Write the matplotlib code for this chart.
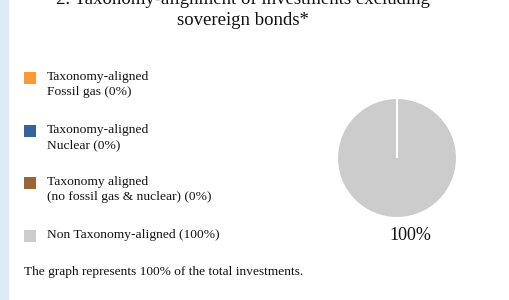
import matplotlib
matplotlib.use("Agg")
import matplotlib.pyplot as plt
from matplotlib.patches import Rectangle
import numpy as np

categories = ["Taxonomy-aligned\nFossil gas (0%)",
              "Taxonomy-aligned\nNuclear (0%)",
              "Taxonomy aligned\n(no fossil gas & nuclear) (0%)",
              "Non Taxonomy-aligned (100%)"]
values = [0, 0, 0, 100]
colors = ["#F99A38", "#33649A", "#9A6535", "#CCCCCC"]
title = "2. Taxonomy-alignment of investments excluding\nsovereign bonds*"
footer = "The graph represents 100% of the total investments."

plt.rcParams['font.family'] = ['Liberation Serif', 'DejaVu Serif']

W, H = 509, 300
fig = plt.figure(figsize=(W / 100, H / 100), dpi=100)
fig.patch.set_facecolor("white")

def fx(px):
    return px / W

def fy(py):
    return 1 - py / H

# left light-blue strip
fig.patches.append(Rectangle((0, 0), fx(9), 1, transform=fig.transFigure,
                             facecolor="#DEEAF5", edgecolor="none"))

# title (top line clipped by the frame)
fig.text(fx(243), fy(25), title, ha="center", va="baseline",
         fontsize=13.5, linespacing=1.3, color="#111111")

# legend
legend_tops = [72, 125, 177, 230]
for cat, col, top in zip(categories, colors, legend_tops):
    fig.patches.append(Rectangle((fx(24), fy(top + 12)), fx(12), 12 / H,
                                 transform=fig.transFigure,
                                 facecolor=col, edgecolor="none"))
    fig.text(fx(47), fy(top - 1), cat, ha="left", va="top",
             fontsize=9.7, linespacing=1.32, color="#111111")

fig.text(fx(24), fy(275), footer, ha="left", va="baseline",
         fontsize=9.6, color="#111111")

# pie
startangle = 90
ax = fig.add_axes([fx(337), fy(218), fx(120), 120 / H])
ax.pie(values, colors=colors, startangle=startangle, counterclock=False,
       wedgeprops=dict(edgecolor="white", linewidth=1.5))
# boundary of the (zero-size) wedges at the start angle
a = np.deg2rad(startangle)
ax.plot([0, np.cos(a)], [0, np.sin(a)], color="white", lw=1.5,
        solid_capstyle="butt")
ax.set_xlim(-1.0, 1.0)
ax.set_ylim(-1.0, 1.0)
ax.set_aspect("equal")
ax.axis("off")

total = sum(values)
for v in values:
    if v > 0:
        ax.text(0.23, -1.3, f"{v / total * 100:.0f}%", ha="center",
                va="center", fontsize=13, color="#111111")

fig.savefig("out.png", dpi=100)
